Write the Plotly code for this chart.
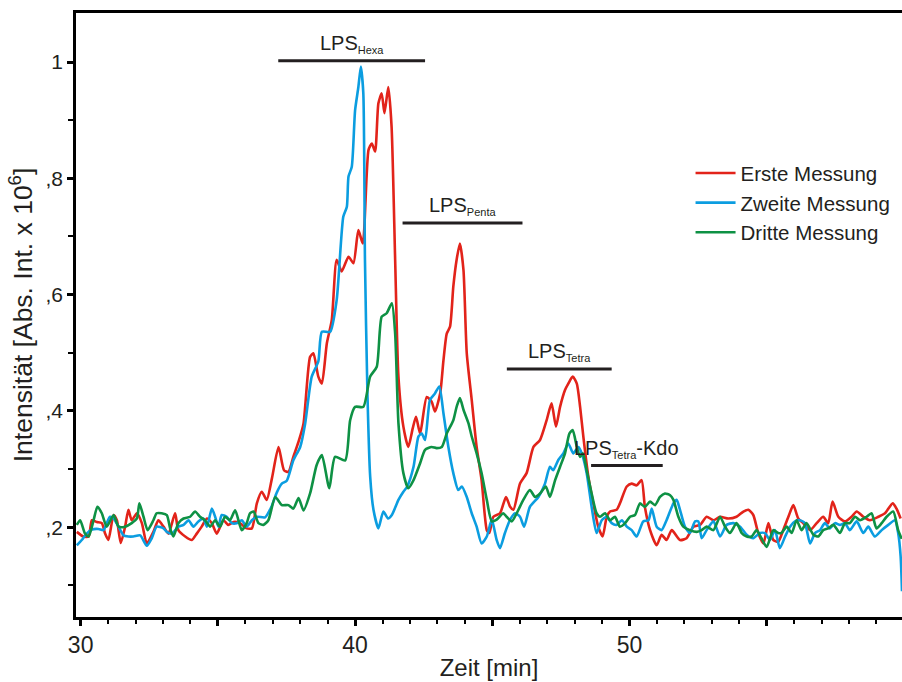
import plotly.graph_objects as go

# ---------------- data ----------------
time_red = [29.86, 30.10, 30.29, 30.41, 30.59, 30.77, 30.89, 31.01, 31.20, 31.32, 31.46, 31.62, 31.74, 31.86,
            32.05, 32.23, 32.41, 32.65, 32.83, 33.02, 33.20, 33.44, 33.56, 33.81, 34.05, 34.23, 34.41, 34.60,
            34.78, 34.96, 35.20, 35.38, 35.57, 35.81, 36.05, 36.24, 36.42, 36.60, 36.78, 36.97, 37.21, 37.41,
            37.57, 37.75, 37.94, 38.12, 38.36, 38.48, 38.66, 38.79, 38.97, 39.15, 39.33, 39.51, 39.76, 39.94,
            40.12, 40.28, 40.49, 40.61, 40.73, 40.85, 40.97, 41.07, 41.21, 41.33, 41.46, 41.58, 41.76, 41.94,
            42.10, 42.22, 42.37, 42.61, 42.79, 42.91, 43.10, 43.22, 43.34, 43.46, 43.58, 43.70, 43.82, 43.95,
            44.07, 44.25, 44.43, 44.61, 44.80, 44.89, 45.04, 45.28, 45.50, 45.65, 45.77, 46.01, 46.25, 46.50,
            46.74, 46.98, 47.16, 47.32, 47.47, 47.65, 47.77, 47.93, 48.08, 48.20, 48.32, 48.50, 48.68, 48.86,
            49.02, 49.17, 49.29, 49.53, 49.65, 49.90, 50.08, 50.26, 50.44, 50.56, 50.75, 50.99, 51.17, 51.35,
            51.54, 51.84, 52.08, 52.33, 52.57, 52.81, 53.06, 53.30, 53.60, 53.90, 54.15, 54.33, 54.51, 54.69,
            54.88, 55.06, 55.24, 55.42, 55.60, 55.79, 55.97, 56.15, 56.33, 56.58, 56.82, 57.06, 57.24, 57.40,
            57.61, 57.85, 58.09, 58.28, 58.52, 58.76, 59.07, 59.31, 59.59, 59.73, 59.88]
int_red = [0.192, 0.184, 0.184, 0.212, 0.209, 0.207, 0.189, 0.178, 0.221, 0.212, 0.173, 0.201, 0.230, 0.212,
           0.224, 0.207, 0.172, 0.192, 0.212, 0.201, 0.189, 0.224, 0.195, 0.184, 0.178, 0.189, 0.201, 0.215,
           0.207, 0.189, 0.212, 0.204, 0.209, 0.207, 0.198, 0.198, 0.241, 0.261, 0.247, 0.284, 0.338, 0.298,
           0.295, 0.321, 0.347, 0.378, 0.493, 0.499, 0.459, 0.447, 0.516, 0.556, 0.660, 0.640, 0.665, 0.654,
           0.711, 0.688, 0.849, 0.860, 0.846, 0.929, 0.946, 0.912, 0.957, 0.889, 0.660, 0.459, 0.373, 0.338,
           0.370, 0.390, 0.361, 0.424, 0.416, 0.399, 0.430, 0.487, 0.533, 0.545, 0.614, 0.660, 0.688, 0.642,
           0.499, 0.419, 0.338, 0.281, 0.195, 0.190, 0.218, 0.224, 0.252, 0.235, 0.230, 0.275, 0.293, 0.338,
           0.350, 0.384, 0.413, 0.373, 0.407, 0.436, 0.447, 0.459, 0.447, 0.407, 0.355, 0.287, 0.241, 0.201,
           0.184, 0.218, 0.227, 0.230, 0.241, 0.270, 0.275, 0.272, 0.281, 0.235, 0.195, 0.169, 0.187, 0.178,
           0.195, 0.178, 0.181, 0.201, 0.204, 0.218, 0.212, 0.218, 0.215, 0.218, 0.227, 0.230, 0.221, 0.190,
           0.172, 0.207, 0.178, 0.175, 0.195, 0.218, 0.238, 0.215, 0.207, 0.195, 0.207, 0.218, 0.207, 0.244,
           0.218, 0.210, 0.218, 0.227, 0.218, 0.212, 0.218, 0.224, 0.241, 0.232, 0.215]

time_blue = [29.86, 30.04, 30.22, 30.41, 30.65, 30.83, 30.95, 31.07, 31.20, 31.38, 31.56, 31.74, 31.92, 32.17,
             32.41, 32.59, 32.77, 33.02, 33.14, 33.32, 33.56, 33.75, 33.93, 34.11, 34.29, 34.47, 34.60, 34.78,
             34.90, 35.02, 35.14, 35.32, 35.51, 35.69, 35.87, 36.05, 36.24, 36.42, 36.72, 36.95, 37.15, 37.33,
             37.51, 37.75, 38.00, 38.18, 38.42, 38.66, 38.79, 39.09, 39.33, 39.57, 39.70, 39.76, 39.88, 40.00,
             40.12, 40.21, 40.30, 40.36, 40.45, 40.55, 40.67, 40.85, 41.03, 41.20, 41.34, 41.58, 41.76, 41.90,
             42.13, 42.31, 42.43, 42.55, 42.73, 42.91, 43.07, 43.22, 43.40, 43.58, 43.76, 43.89, 44.07, 44.25,
             44.43, 44.61, 44.80, 44.98, 45.16, 45.28, 45.46, 45.65, 45.83, 46.01, 46.16, 46.37, 46.68, 46.92,
             47.10, 47.22, 47.41, 47.59, 47.77, 47.95, 48.14, 48.26, 48.44, 48.62, 48.80, 48.99, 49.17, 49.35,
             49.53, 49.72, 49.90, 50.08, 50.26, 50.50, 50.69, 50.81, 50.99, 51.17, 51.35, 51.60, 51.72, 51.84,
             52.02, 52.20, 52.39, 52.51, 52.63, 52.81, 53.06, 53.30, 53.54, 53.78, 54.03, 54.27, 54.51, 54.75,
             54.94, 55.12, 55.30, 55.48, 55.67, 55.85, 56.03, 56.21, 56.39, 56.58, 56.76, 56.94, 57.12, 57.30,
             57.49, 57.67, 57.85, 58.03, 58.28, 58.52, 58.70, 58.94, 59.19, 59.43, 59.67, 59.79, 59.88, 59.93]
int_blue = [0.169, 0.178, 0.189, 0.196, 0.197, 0.195, 0.207, 0.218, 0.215, 0.201, 0.186, 0.184, 0.184, 0.186,
            0.168, 0.181, 0.201, 0.198, 0.192, 0.189, 0.201, 0.204, 0.212, 0.201, 0.210, 0.215, 0.201, 0.232,
            0.218, 0.201, 0.221, 0.218, 0.207, 0.207, 0.212, 0.201, 0.212, 0.218, 0.217, 0.235, 0.260, 0.275,
            0.280, 0.315, 0.338, 0.378, 0.459, 0.485, 0.536, 0.536, 0.591, 0.734, 0.751, 0.803, 0.820, 0.917,
            0.957, 0.992, 0.946, 0.660, 0.430, 0.287, 0.230, 0.198, 0.227, 0.215, 0.221, 0.247, 0.261, 0.270,
            0.304, 0.356, 0.361, 0.350, 0.419, 0.430, 0.442, 0.396, 0.338, 0.293, 0.264, 0.270, 0.252, 0.224,
            0.201, 0.172, 0.184, 0.213, 0.178, 0.164, 0.190, 0.213, 0.224, 0.218, 0.201, 0.235, 0.252, 0.275,
            0.304, 0.298, 0.316, 0.327, 0.344, 0.327, 0.338, 0.327, 0.293, 0.235, 0.190, 0.212, 0.218, 0.207,
            0.204, 0.212, 0.201, 0.195, 0.184, 0.210, 0.212, 0.232, 0.201, 0.195, 0.212, 0.241, 0.247, 0.230,
            0.201, 0.190, 0.210, 0.210, 0.181, 0.195, 0.210, 0.184, 0.204, 0.207, 0.201, 0.187, 0.181, 0.190,
            0.190, 0.178, 0.195, 0.164, 0.184, 0.201, 0.210, 0.212, 0.207, 0.172, 0.190, 0.195, 0.207, 0.198,
            0.207, 0.204, 0.207, 0.195, 0.210, 0.190, 0.201, 0.184, 0.195, 0.204, 0.212, 0.190, 0.150, 0.090]

time_green = [29.86, 29.98, 30.16, 30.29, 30.47, 30.61, 30.77, 30.95, 31.20, 31.38, 31.62, 31.86, 32.05, 32.14,
              32.29, 32.44, 32.65, 32.77, 32.95, 33.14, 33.26, 33.38, 33.56, 33.75, 33.99, 34.17, 34.35, 34.53,
              34.72, 34.90, 35.08, 35.26, 35.44, 35.63, 35.87, 36.05, 36.17, 36.30, 36.48, 36.66, 36.84, 37.09,
              37.33, 37.57, 37.75, 37.94, 38.12, 38.36, 38.60, 38.79, 39.06, 39.27, 39.64, 39.82, 40.00, 40.30,
              40.55, 40.79, 40.97, 41.15, 41.34, 41.46, 41.58, 41.76, 41.94, 42.13, 42.37, 42.55, 42.79, 42.97,
              43.16, 43.34, 43.58, 43.70, 43.82, 43.95, 44.13, 44.25, 44.43, 44.61, 44.80, 44.98, 45.16, 45.40,
              45.52, 45.71, 45.89, 46.13, 46.37, 46.56, 46.74, 46.95, 47.10, 47.29, 47.47, 47.65, 47.81, 47.93,
              48.08, 48.20, 48.30, 48.44, 48.62, 48.80, 48.93, 49.11, 49.29, 49.47, 49.65, 49.84, 50.02, 50.20,
              50.38, 50.56, 50.75, 50.93, 51.11, 51.29, 51.48, 51.60, 51.78, 51.96, 52.20, 52.45, 52.63, 52.81,
              53.06, 53.30, 53.48, 53.66, 53.90, 54.09, 54.27, 54.45, 54.63, 54.81, 55.00, 55.24, 55.42, 55.54,
              55.73, 55.91, 56.09, 56.27, 56.45, 56.70, 56.88, 57.06, 57.24, 57.43, 57.67, 57.85, 58.03, 58.22,
              58.40, 58.64, 58.82, 59.00, 59.19, 59.37, 59.61, 59.79, 59.92]
int_green = [0.204, 0.212, 0.189, 0.184, 0.212, 0.235, 0.224, 0.201, 0.221, 0.201, 0.201, 0.207, 0.215, 0.241,
             0.218, 0.195, 0.212, 0.224, 0.224, 0.221, 0.198, 0.184, 0.207, 0.215, 0.218, 0.227, 0.218, 0.212,
             0.201, 0.212, 0.201, 0.218, 0.212, 0.229, 0.195, 0.207, 0.224, 0.227, 0.207, 0.204, 0.212, 0.252,
             0.238, 0.238, 0.232, 0.250, 0.229, 0.258, 0.307, 0.324, 0.267, 0.321, 0.315, 0.384, 0.407, 0.407,
             0.459, 0.476, 0.562, 0.568, 0.585, 0.533, 0.379, 0.293, 0.267, 0.281, 0.310, 0.333, 0.338, 0.336,
             0.338, 0.361, 0.384, 0.407, 0.422, 0.402, 0.379, 0.356, 0.327, 0.293, 0.247, 0.210, 0.213, 0.224,
             0.218, 0.210, 0.224, 0.247, 0.264, 0.252, 0.258, 0.270, 0.252, 0.281, 0.304, 0.327, 0.361, 0.367,
             0.338, 0.321, 0.327, 0.298, 0.258, 0.224, 0.218, 0.224, 0.212, 0.218, 0.201, 0.207, 0.218, 0.221,
             0.241, 0.235, 0.244, 0.238, 0.252, 0.258, 0.255, 0.247, 0.218, 0.201, 0.195, 0.192, 0.195, 0.201,
             0.195, 0.218, 0.201, 0.190, 0.207, 0.190, 0.184, 0.184, 0.195, 0.181, 0.166, 0.195, 0.190, 0.190,
             0.201, 0.190, 0.212, 0.195, 0.207, 0.187, 0.184, 0.195, 0.198, 0.204, 0.190, 0.207, 0.207, 0.218,
             0.212, 0.218, 0.224, 0.198, 0.207, 0.218, 0.227, 0.195, 0.180]

series_names = ["Erste Messung", "Zweite Messung", "Dritte Messung"]
series_colors = ["#E2231A", "#0B9DE0", "#0E9144"]

# peak group labels
peak_names = ["Hexa", "Penta", "Tetra", "Tetra"]
peak_suffix = ["", "", "", "-Kdo"]
peak_start = [37.20, 41.73, 45.53, 48.60]
peak_end = [42.55, 46.10, 49.35, 51.21]
peak_level = [1.002, 0.723, 0.472, 0.306]

x_tickvals = [30, 35, 40, 45, 50, 55]
x_ticktext = ["30", "", "40", "", "50", ""]
y_tickvals = [0.2, 0.4, 0.6, 0.8, 1.0]
y_ticktext = [",2", ",4", ",6", ",8", "1"]

FONT = "Liberation Sans, Arial, sans-serif"

fig = go.Figure()
for t, v, name, col in zip([time_red, time_blue, time_green],
                           [int_red, int_blue, int_green],
                           series_names, series_colors):
    fig.add_trace(go.Scatter(x=t, y=v, mode="lines", name=name,
                             line=dict(color=col, width=2.6, shape="spline", smoothing=0.6)))

for name, suf, x0, x1, lvl in zip(peak_names, peak_suffix, peak_start, peak_end, peak_level):
    fig.add_shape(type="line", xref="x", yref="y", x0=x0, x1=x1, y0=lvl, y1=lvl,
                  line=dict(color="#231F20", width=3))
    fig.add_annotation(x=(x0 + x1) / 2, y=lvl, xref="x", yref="y", showarrow=False,
                       text="LPS<sub><span style='font-size:11px'>" + name + "</span></sub>" + suf,
                       yanchor="bottom", xanchor="center", yshift=3,
                       font=dict(family=FONT, size=20, color="#231F20"))

fig.update_layout(
    width=902, height=682,
    margin=dict(l=76, r=0, t=13, b=65, autoexpand=False),
    paper_bgcolor="white", plot_bgcolor="white",
    font=dict(family=FONT, color="#231F20"),
    legend=dict(x=0.744, y=0.768, xanchor="left", yanchor="top",
                font=dict(family=FONT, size=20.5, color="#231F20"),
                bgcolor="rgba(0,0,0,0)", itemwidth=40, tracegroupgap=0),
    xaxis=dict(range=[29.83, 59.93], showline=True, linecolor="black", linewidth=2.5, mirror=True,
               automargin=False,
               tickvals=x_tickvals, ticktext=x_ticktext, ticks="outside", ticklen=6, tickwidth=2.5,
               tickcolor="black", showgrid=False, zeroline=False,
               minor=dict(dtick=1, tick0=30, ticks="outside", ticklen=4, tickwidth=2, tickcolor="black",
                          showgrid=False),
               tickfont=dict(family=FONT, size=23, color="#231F20"),
               title=dict(text="Zeit [min]", font=dict(family=FONT, size=24, color="#231F20"), standoff=2)),
    yaxis=dict(range=[0.0456, 1.0843], showline=True, linecolor="black", linewidth=2.5, mirror=False,
               automargin=False,
               tickvals=y_tickvals, ticktext=y_ticktext, ticks="outside", ticklen=6, tickwidth=2.5,
               tickcolor="black", showgrid=False, zeroline=False,
               minor=dict(tickvals=[0.1, 0.3, 0.5, 0.7, 0.9], ticks="outside", ticklen=5, tickwidth=2,
                          tickcolor="black", showgrid=False),
               tickfont=dict(family=FONT, size=21, color="#231F20"),
               title=dict(text="Intensität [Abs. Int. x 10<sup>6</sup>]",
                          font=dict(family=FONT, size=26.5, color="#231F20"), standoff=6)),
)

fig.write_html("out.html", config={"displayModeBar": False},
               post_script="document.body.style.margin='0';document.body.style.overflow='hidden';")
